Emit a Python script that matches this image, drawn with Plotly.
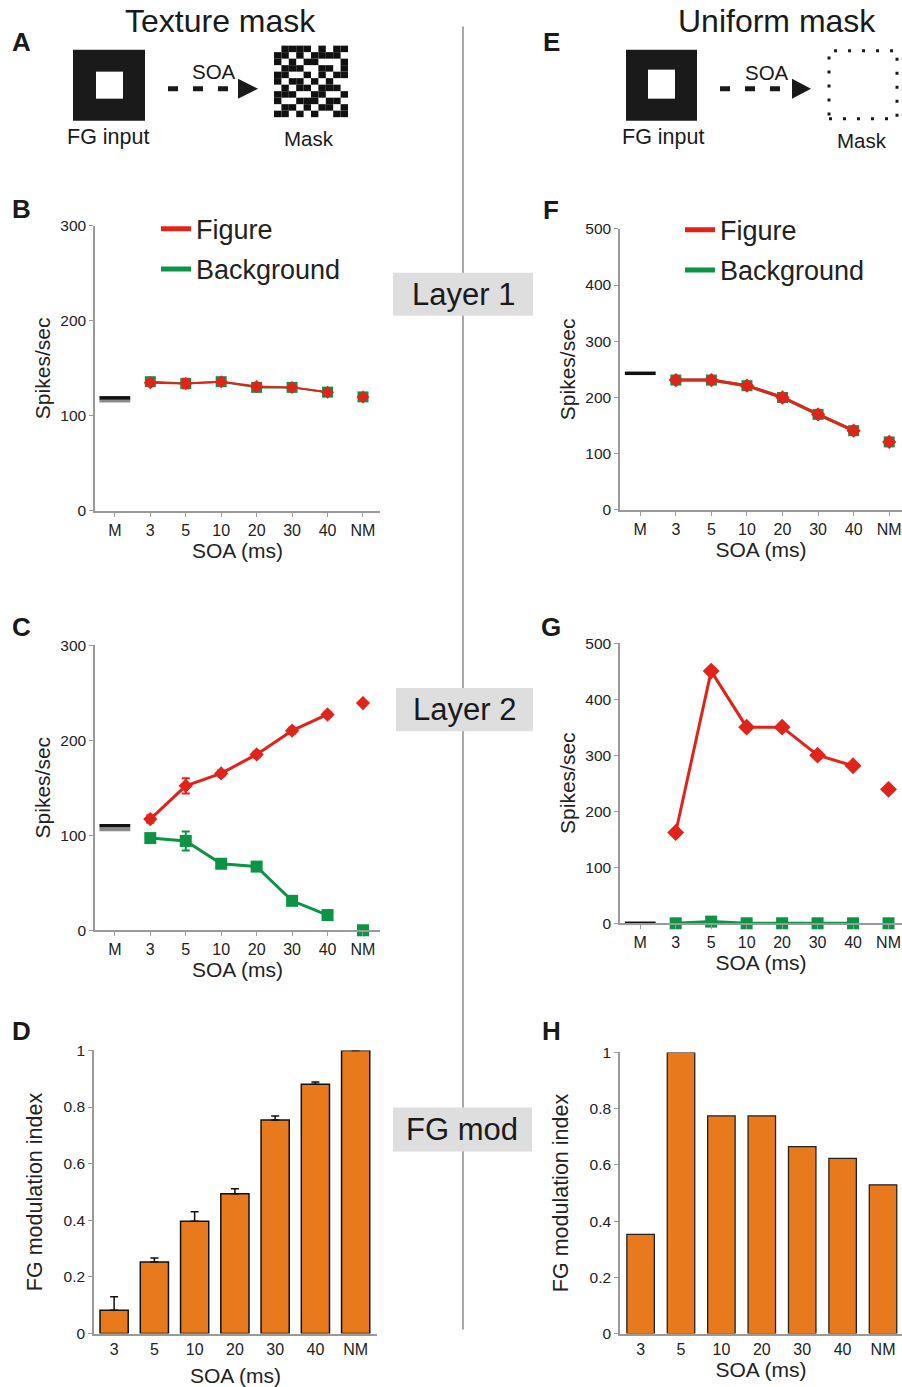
import plotly.graph_objects as go

W, H = 902, 1387
# the rendered page is observed to map layout y -> 10.4 + 0.987*y; compensate so that
# positions given in reference-image pixels land where the reference has them
Y_OFF, Y_SCL = 10.4, 0.987
def px(x): return x / W
def py(y): return 1 - ((y - Y_OFF) / Y_SCL) / H

FONT = "Liberation Sans, Arial, sans-serif"
RED = "#e2231a"
GREEN = "#0b9444"
ORANGE = "#e8791d"
AXC = "#9a9a9a"

# ---------------- data ----------------
cats_line = ["M", "3", "5", "10", "20", "30", "40", "NM"]
soa = ["3", "5", "10", "20", "30", "40"]
cats_bar = ["3", "5", "10", "20", "30", "40", "NM"]

# Panel B (texture mask, layer 1)
b_mask_black = 119
b_mask_gray = 116
b_fig = [135, 134, 136, 131, 130, 125]
b_fig_err = [3, 5, 2, 3, 2, 2]
b_fig_nm = 120
b_bg = [136, 134, 136, 130, 130, 125]
b_bg_err = [2, 3, 2, 2, 2, 2]
b_bg_nm = 120

# Panel C (texture mask, layer 2)
c_mask_black = 110
c_mask_gray = 106
c_fig = [117, 152, 165, 185, 210, 227]
c_fig_err = [4, 8, 3, 3, 3, 2]
c_fig_nm = 239
c_bg = [97, 94, 70, 67, 31, 16]
c_bg_err = [4, 10, 4, 4, 3, 2]
c_bg_nm = 0

# Panel D (texture mask, FG modulation)
d_vals = [0.082, 0.253, 0.397, 0.494, 0.754, 0.88, 1.0]
d_err = [0.048, 0.014, 0.033, 0.017, 0.014, 0.008, 0.0]

# Panel F (uniform mask, layer 1)
f_mask = 243
f_fig = [231, 231, 221, 200, 170, 141]
f_fig_nm = 121
f_bg = [231, 231, 221, 200, 170, 141]
f_bg_nm = 121

# Panel G (uniform mask, layer 2)
g_mask = 0
g_fig = [162, 450, 350, 350, 300, 281]
g_fig_err = [3, 5, 3, 3, 3, 3]
g_fig_nm = 239
g_bg = [0, 3, 0, 0, 0, 0]
g_bg_nm = 0

# Panel H (uniform mask, FG modulation)
h_vals = [0.353, 1.0, 0.774, 0.774, 0.665, 0.623, 0.529]

# texture mask pattern (schematic)
TEX = [
    "0111101011",
    "1101011110",
    "1010110001",
    "0111001101",
    "1100101011",
    "1011010100",
    "0101101110",
    "1110011001",
    "1001110110",
    "0110101101",
    "1101010011",
]

fig = go.Figure()

def line_panel(ax, mask_black, mask_gray, fig_v, fig_err, fig_nm, bg_v, bg_err, bg_nm,
               rsz, gsz, lw):
    xa, ya = "x" + ax, "y" + ax
    common = dict(xaxis=xa, yaxis=ya, cliponaxis=False, showlegend=False)
    if mask_gray is not None:
        fig.add_trace(go.Scatter(x=["M"], y=[mask_gray], mode="markers", hoverinfo="skip",
                                 marker=dict(symbol="line-ew", size=22, line=dict(width=3.5, color="#8a8a8a")),
                                 **common))
    fig.add_trace(go.Scatter(x=["M"], y=[mask_black], mode="markers", hoverinfo="skip",
                             marker=dict(symbol="line-ew", size=22, line=dict(width=3.5, color="#111")),
                             **common))
    fig.add_trace(go.Scatter(x=soa, y=bg_v, mode="lines+markers",
                             line=dict(color=GREEN, width=lw),
                             marker=dict(symbol="square", size=gsz, color=GREEN),
                             error_y=dict(type="data", array=bg_err, color=GREEN, thickness=2, width=4,
                                          visible=bg_err is not None),
                             **common))
    fig.add_trace(go.Scatter(x=["NM"], y=[bg_nm], mode="markers",
                             marker=dict(symbol="square", size=gsz, color=GREEN), **common))
    fig.add_trace(go.Scatter(x=soa, y=fig_v, mode="lines+markers",
                             line=dict(color=RED, width=lw),
                             marker=dict(symbol="diamond", size=rsz, color=RED),
                             error_y=dict(type="data", array=fig_err, color=RED, thickness=2, width=4,
                                          visible=fig_err is not None),
                             **common))
    fig.add_trace(go.Scatter(x=["NM"], y=[fig_nm], mode="markers",
                             marker=dict(symbol="diamond", size=rsz, color=RED), **common))

line_panel("", b_mask_black, b_mask_gray, b_fig, b_fig_err, b_fig_nm, b_bg, b_bg_err, b_bg_nm, 10, 11, 2)
line_panel("2", f_mask, None, f_fig, None, f_fig_nm, f_bg, None, f_bg_nm, 11, 11, 3)
line_panel("3", c_mask_black, c_mask_gray, c_fig, c_fig_err, c_fig_nm, c_bg, c_bg_err, c_bg_nm, 11, 12, 3)
line_panel("4", g_mask, None, g_fig, g_fig_err, g_fig_nm, g_bg, None, g_bg_nm, 13, 12, 3)

# bars
fig.add_trace(go.Bar(x=cats_bar, y=d_vals, xaxis="x5", yaxis="y5", width=0.7,
                     marker=dict(color=ORANGE, line=dict(color="#111", width=1.5)),
                     error_y=dict(type="data", symmetric=False, array=d_err,
                                  arrayminus=[0] * len(d_err), color="#111", thickness=1.5, width=4),
                     showlegend=False))
fig.add_trace(go.Bar(x=cats_bar, y=h_vals, xaxis="x6", yaxis="y6", width=0.68,
                     marker=dict(color=ORANGE, line=dict(color="#222", width=1.3)),
                     showlegend=False))

# legend-only traces
for lg, xa, ya in [("legend", "x", "y"), ("legend2", "x2", "y2")]:
    fig.add_trace(go.Scatter(x=[None], y=[None], mode="lines", name="Figure", xaxis=xa, yaxis=ya,
                             line=dict(color=RED, width=5), legend=lg, legendgroup=lg + "a"))
    fig.add_trace(go.Scatter(x=[None], y=[None], mode="lines", name="Background", xaxis=xa, yaxis=ya,
                             line=dict(color=GREEN, width=5), legend=lg, legendgroup=lg + "b"))

def xax(x0, x1, rng, cats, anchor, ticks="outside", standoff=3):
    return dict(domain=[px(x0), px(x1)], anchor=anchor, type="category",
                categoryorder="array", categoryarray=cats, range=rng,
                showline=True, linecolor=AXC, linewidth=1.5, ticks=ticks, ticklen=4,
                tickcolor=AXC, showgrid=False, zeroline=False,
                tickfont=dict(size=16, color="#222", family=FONT),
                title=dict(text="SOA (ms)", font=dict(size=21, color="#222", family=FONT), standoff=standoff))

def yax(y_top, y_bottom, rng, tickvals, anchor, ttl, standoff, tsize, ticktext=None):
    d = dict(domain=[py(y_bottom), py(y_top)], anchor=anchor, range=rng,
             tickvals=tickvals, showline=True, linecolor=AXC, linewidth=1.5,
             ticks="outside", ticklen=4, tickcolor=AXC, showgrid=False, zeroline=False,
             tickfont=dict(size=15.5, color="#222", family=FONT),
             title=dict(text=ttl, font=dict(size=tsize, color="#222", family=FONT), standoff=standoff))
    if ticktext:
        d["ticktext"] = ticktext
    return d

FG_TT = ["0", "0.2", "0.4", "0.6", "0.8", "1"]
layout = dict(
    width=W, height=H, margin=dict(l=0, r=0, t=0, b=0),
    paper_bgcolor="white", plot_bgcolor="rgba(0,0,0,0)",
    font=dict(family=FONT, color="#222"),
    xaxis=xax(95, 380, [-0.56, 7.48], cats_line, "y"),
    yaxis=yax(227, 512, [0, 300], [0, 100, 200, 300], "x", "Spikes/sec", 4, 21),
    xaxis2=xax(620, 902, [-0.57, 7.36], cats_line, "y2"),
    yaxis2=yax(230, 511, [0, 500], [0, 100, 200, 300, 400, 500], "x2", "Spikes/sec", 4, 21),
    xaxis3=xax(95, 380, [-0.56, 7.48], cats_line, "y3"),
    yaxis3=yax(646, 931, [0, 300], [0, 100, 200, 300], "x3", "Spikes/sec", 4, 21),
    xaxis4=xax(620, 902, [-0.57, 7.38], cats_line, "y4"),
    yaxis4=yax(644, 924, [0, 500], [0, 100, 200, 300, 400, 500], "x4", "Spikes/sec", 4, 21),
    xaxis5=xax(94, 377, [-0.5, 6.53], cats_bar, "y5", ticks="", standoff=12),
    yaxis5=yax(1051, 1334, [0, 1], [0, 0.2, 0.4, 0.6, 0.8, 1], "x5", "FG modulation index", 15, 21.5, FG_TT),
    xaxis6=xax(620, 902, [-0.51, 6.47], cats_bar, "y6", ticks="", standoff=5),
    yaxis6=yax(1053, 1334, [0, 1], [0, 0.2, 0.4, 0.6, 0.8, 1], "x6", "FG modulation index", 15, 21.5, FG_TT),
    legend=dict(x=px(156), y=py(206), xanchor="left", yanchor="top", bgcolor="rgba(0,0,0,0)",
                font=dict(size=27, color="#222", family=FONT), tracegroupgap=2),
    legend2=dict(x=px(680), y=py(207), xanchor="left", yanchor="top", bgcolor="rgba(0,0,0,0)",
                 font=dict(size=27, color="#222", family=FONT), tracegroupgap=2),
)
fig.update_layout(**layout)

shapes = []
# central divider
shapes.append(dict(type="line", xref="paper", yref="paper", x0=px(463), x1=px(463), y0=py(28), y1=py(1330),
                   line=dict(color="#a8a8a8", width=2)))
# gray label boxes
boxes = [("Layer 1", 393, 274, 533, 317), ("Layer 2", 396, 689, 533, 732), ("FG mod", 393, 1108, 532, 1152)]
for _, x0, y0, x1, y1 in boxes:
    shapes.append(dict(type="rect", xref="paper", yref="paper", x0=px(x0), x1=px(x1), y0=py(y1), y1=py(y0),
                       fillcolor="#dedede", line=dict(width=0)))

def fg_input(x0, y0, x1, y1, ix0, iy0, ix1, iy1):
    shapes.append(dict(type="rect", xref="paper", yref="paper", x0=px(x0), x1=px(x1), y0=py(y1), y1=py(y0),
                       fillcolor="#1a1a1a", line=dict(width=0)))
    shapes.append(dict(type="rect", xref="paper", yref="paper", x0=px(ix0), x1=px(ix1), y0=py(iy1), y1=py(iy0),
                       fillcolor="white", line=dict(width=0)))

def arrow(x0, x1, yc, hx0, hx1):
    shapes.append(dict(type="line", xref="paper", yref="paper", x0=px(x0), x1=px(x1), y0=py(yc), y1=py(yc),
                       line=dict(color="#1a1a1a", width=5, dash="10px,15px")))
    path = "M {} {} L {} {} L {} {} Z".format(px(hx0), py(yc - 10), px(hx1), py(yc), px(hx0), py(yc + 10))
    shapes.append(dict(type="path", xref="paper", yref="paper", path=path, fillcolor="#1a1a1a",
                       line=dict(width=0)))

fg_input(73, 51, 145, 122, 96, 73, 123, 100)
arrow(168, 232, 90, 238, 258)
fg_input(626, 51, 697, 122, 648, 71, 675, 100)
arrow(720, 784, 90, 792, 811)

# texture mask
tx0, ty0, cw, ch = 274, 47, 7.4, 6.5
for r, row in enumerate(TEX):
    for c, v in enumerate(row):
        if v == "1":
            shapes.append(dict(type="rect", xref="paper", yref="paper",
                               x0=px(tx0 + c * cw), x1=px(tx0 + (c + 1) * cw),
                               y0=py(ty0 + (r + 1) * ch), y1=py(ty0 + r * ch),
                               fillcolor="#111", line=dict(width=0)))
# uniform mask (dotted outline)
shapes.append(dict(type="rect", xref="paper", yref="paper", x0=px(829), x1=px(897), y0=py(120), y1=py(52),
                   line=dict(color="#1a1a1a", width=3, dash="3px,11px"), fillcolor="rgba(0,0,0,0)"))

fig.update_layout(shapes=shapes)

ann = []
def txt(t, x, y, size, bold=False, xanchor="center"):
    ann.append(dict(text="<b>%s</b>" % t if bold else t, x=px(x), y=py(y), xref="paper", yref="paper",
                    xanchor=xanchor, yanchor="middle", showarrow=False,
                    font=dict(size=size, color="#1a1a1a", family=FONT)))

txt("Texture mask", 220, 22, 32)
txt("Uniform mask", 777, 22, 32)
for t, x, y in [("A", 21, 43), ("B", 21, 210), ("C", 21, 628), ("D", 21, 1032),
                ("E", 551, 43), ("F", 551, 211), ("G", 551, 628), ("H", 551, 1032)]:
    txt(t, x, y, 26, bold=True)
txt("FG input", 108, 138, 21.5)
txt("SOA", 214, 73, 20.5)
txt("Mask", 309, 140, 20.5)
txt("FG input", 663, 138, 21.5)
txt("SOA", 767, 74, 20.5)
txt("Mask", 862, 142, 20.5)
for t, x0, y0, x1, y1 in boxes:
    txt(t, (x0 + x1) / 2, (y0 + y1) / 2, 31)

fig.update_layout(annotations=ann)
fig.write_html("out.html", config={"displayModeBar": False},
               post_script="document.body.style.margin='0';")
